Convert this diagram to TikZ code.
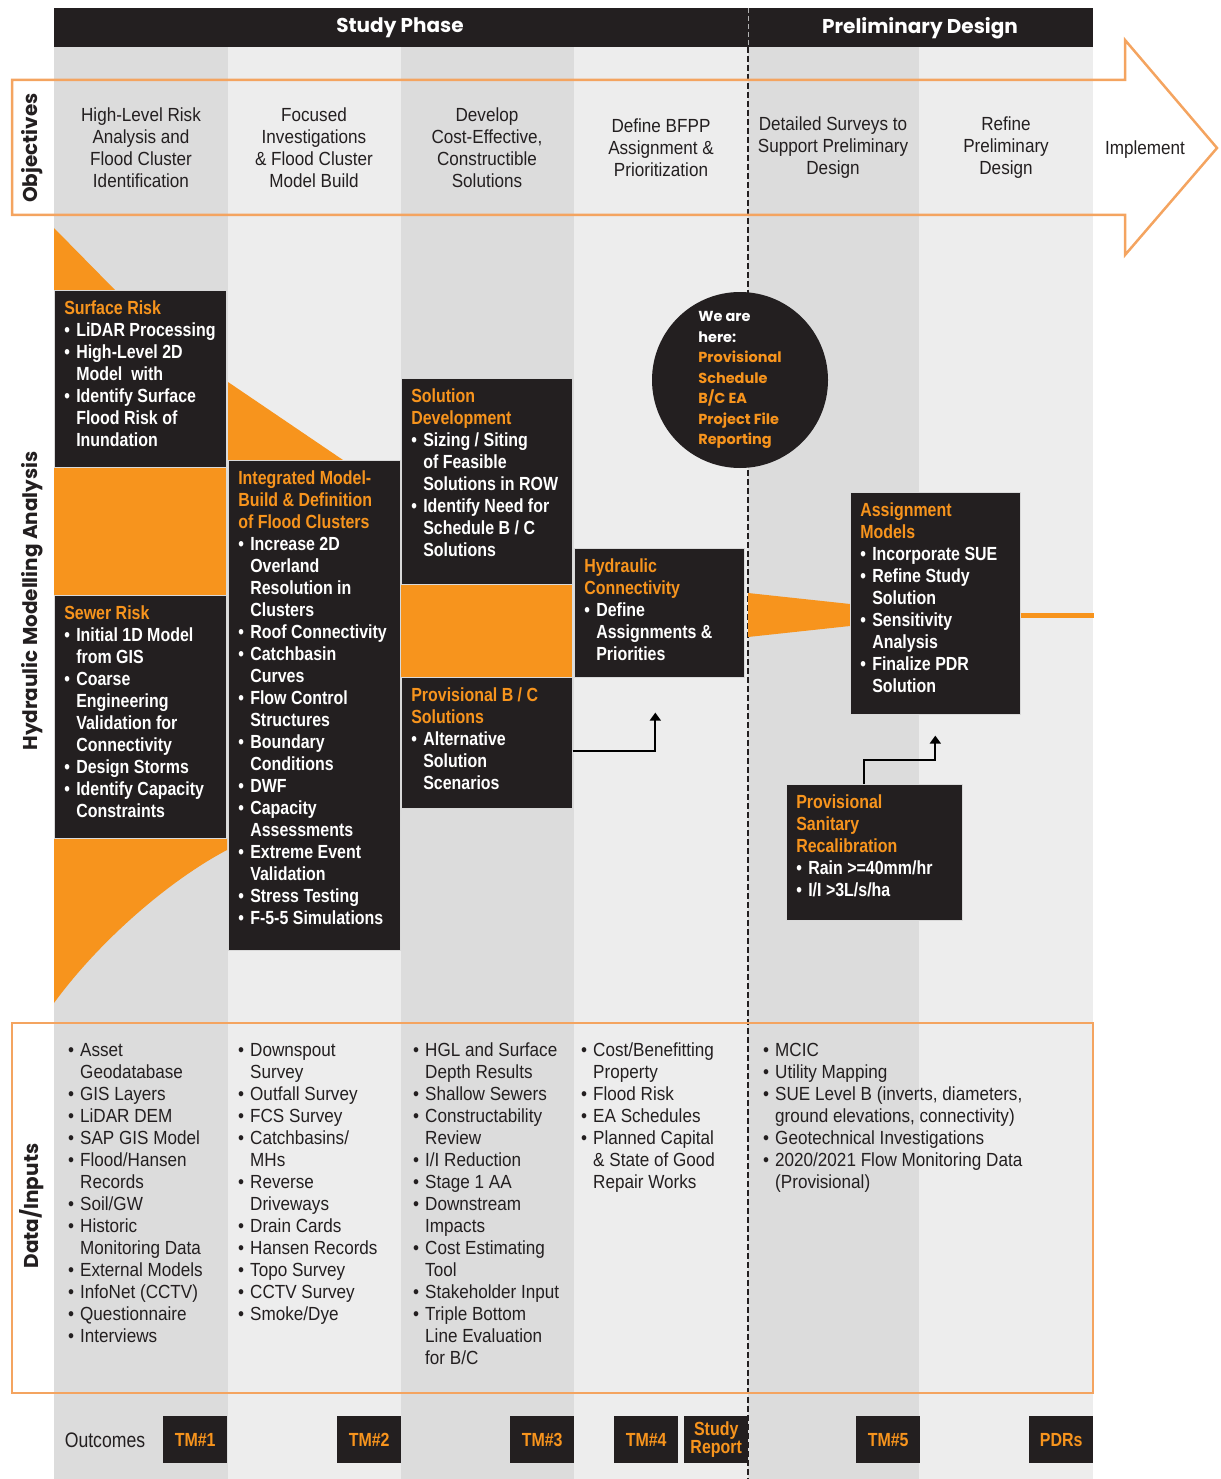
\documentclass[tikz,border=0pt]{standalone}
\usepackage{fontspec}
\setmainfont{Liberation Sans}[FakeStretch=0.9]
\newfontfamily\narrowfont{Liberation Sans}[FakeStretch=0.84]
\newfontfamily\roundfont{Poppins}
\usetikzlibrary{positioning,arrows.meta}

\definecolor{phasedark}{HTML}{231F20}
\definecolor{floodorange}{HTML}{F7941D}
\definecolor{lineorange}{HTML}{F4A460}
\definecolor{banddark}{HTML}{DCDCDC}
\definecolor{bandlight}{HTML}{EDEDED}

\newcommand{\bpt}{\makebox[12pt][l]{\textbullet}}
\newcommand{\bgap}{\hspace*{12pt}}
\newcommand{\hd}[1]{{\color{floodorange}#1}}

\tikzset{
  phase/.style={text=white, font=\roundfont\bfseries\fontsize{20}{22}\selectfont},
  sidelabel/.style={rotate=90, text=phasedark, font=\roundfont\bfseries\fontsize{20}{22}\selectfont},
  objtext/.style={align=center, text=phasedark, font=\fontsize{19}{22}\selectfont},
  datatext/.style={anchor=north west, inner sep=0pt, align=left, text=phasedark, font=\fontsize{19}{22}\selectfont},
  stage/.style={anchor=north west, fill=phasedark, draw=white!85!black, line width=0.6pt, text=white, inner sep=10pt, font=\narrowfont\bfseries\fontsize{19}{22}\selectfont},
  outcome/.style={anchor=north west, fill=phasedark, text=floodorange, minimum width=64pt, minimum height=47pt, inner sep=0pt, align=center, font=\narrowfont\bfseries\fontsize{19}{18}\selectfont},
  feed/.style={draw=black, line width=1.8pt, -{Triangle[width=11pt,length=8pt]}},
}

\begin{document}
\begin{tikzpicture}[x=1pt, y=-1pt]
\useasboundingbox (0,0) rectangle (1220,1479);

\foreach \xa/\xb/\tone in {54/228/banddark, 228/401/bandlight, 401/574/banddark, 574/748/bandlight, 748/919/banddark, 919/1093/bandlight}
  \fill[\tone] (\xa,47) rectangle (\xb,1479);

\fill[phasedark] (54,8) rectangle (1093,47);
\node[phase] (study) at (400,28) {Study Phase};
\node[phase] (prelim) at (920,28) {Preliminary Design};
\draw[white!70!black, dash pattern=on 5pt off 3pt, line width=1pt] (748,8) -- (748,47);
\draw[phasedark, dash pattern=on 6pt off 3pt, line width=1.2pt] (748,47) -- (748,1479);

\draw[lineorange, line width=2.5pt] (12,80) -- (1125,80) -- (1125,40) -- (1217,148) -- (1125,255) -- (1125,215) -- (12,215) -- cycle;

\node[sidelabel] (objlbl) at (32,148) {Objectives};
\node[sidelabel] (hydlbl) at (32,601) {Hydraulic Modelling Analysis};
\node[sidelabel] (datalbl) at (32,1206) {Data/Inputs};

\node[objtext] (obj1) at (141,148) {High-Level Risk\\Analysis and\\Flood Cluster\\Identification};
\node[objtext] (obj2) at (314,148) {Focused\\Investigations\\\& Flood Cluster\\Model Build};
\node[objtext] (obj3) at (487,148) {Develop\\Cost-Effective,\\Constructible\\Solutions};
\node[objtext] (obj4) at (661,148) {Define BFPP\\Assignment \&\\Prioritization};
\node[objtext] (obj5) at (833,148) {Detailed Surveys to\\Support Preliminary\\Design};
\node[objtext] (obj6) at (1006,148) {Refine\\Preliminary\\Design};
\node[objtext] (impl) at (1145,150) {Implement};

\fill[floodorange] (54,228) -- (115,290) -- (54,290) -- cycle;
\fill[floodorange] (54,467) rectangle (226,595);
\fill[floodorange] (54,838) -- (227,838) -- (227,850) .. controls (170,880) and (100,940) .. (54,1003) -- cycle;
\fill[floodorange] (228,382) -- (343,460) -- (228,460) -- cycle;
\fill[floodorange] (401,584) rectangle (572,677);
\fill[floodorange] (748,593) -- (850,604) -- (850,626) -- (748,637) -- cycle;

\node[stage] (surf) at (54,290) {\parbox[t][157pt][t]{152pt}{\raggedright
  \hd{Surface Risk}\\
  \bpt LiDAR Processing\\
  \bpt High-Level 2D\\\bgap Model~~with\\
  \bpt Identify Surface\\\bgap Flood Risk of\\\bgap Inundation}};
\node[stage] (sewer) at (54,595) {\parbox[t][223pt][t]{152pt}{\raggedright
  \hd{Sewer Risk}\\
  \bpt Initial 1D Model\\\bgap from GIS\\
  \bpt Coarse\\\bgap Engineering\\\bgap Validation for\\\bgap Connectivity\\
  \bpt Design Storms\\
  \bpt Identify Capacity\\\bgap Constraints}};
\node[stage] (integ) at (228,460) {\parbox[t][470pt][t]{152pt}{\raggedright
  \hd{Integrated Model-\\Build \& Definition\\of Flood Clusters}\\
  \bpt Increase 2D\\\bgap Overland\\\bgap Resolution in\\\bgap Clusters\\
  \bpt Roof Connectivity\\
  \bpt Catchbasin\\\bgap Curves\\
  \bpt Flow Control\\\bgap Structures\\
  \bpt Boundary\\\bgap Conditions\\
  \bpt DWF\\
  \bpt Capacity\\\bgap Assessments\\
  \bpt Extreme Event\\\bgap Validation\\
  \bpt Stress Testing\\
  \bpt F-5-5 Simulations}};
\node[stage] (soldev) at (401,378) {\parbox[t][186pt][t]{151pt}{\raggedright
  \hd{Solution\\Development}\\
  \bpt Sizing / Siting\\\bgap of Feasible\\\bgap Solutions in ROW\\
  \bpt Identify Need for\\\bgap Schedule B / C\\\bgap Solutions}};
\node[stage] (provbc) at (401,677) {\parbox[t][111pt][t]{151pt}{\raggedright
  \hd{Provisional B / C\\Solutions}\\
  \bpt Alternative\\\bgap Solution\\\bgap Scenarios}};
\node[stage] (hydconn) at (574,548) {\parbox[t][109pt][t]{150pt}{\raggedright
  \hd{Hydraulic\\Connectivity}\\
  \bpt Define\\\bgap Assignments \&\\\bgap Priorities}};
\node[stage] (assign) at (850,492) {\parbox[t][202pt][t]{150pt}{\raggedright
  \hd{Assignment\\Models}\\
  \bpt Incorporate SUE\\
  \bpt Refine Study\\\bgap Solution\\
  \bpt Sensitivity\\\bgap Analysis\\
  \bpt Finalize PDR\\\bgap Solution}};
\node[stage] (provsan) at (786,784) {\parbox[t][116pt][t]{156pt}{\raggedright
  \hd{Provisional\\Sanitary\\Recalibration}\\
  \bpt Rain >=40mm/hr\\
  \bpt I/I >3L/s/ha}};

\node[circle, fill=phasedark, minimum size=176pt, inner sep=0pt, align=left,
  font=\roundfont\bfseries\fontsize{14.5}{20.5}\selectfont, text=white] (here) at (740,380)
  {We are\\here:\\\hd{Provisional}\\\hd{Schedule}\\\hd{B/C EA}\\\hd{Project File}\\\hd{Reporting}};

\draw[feed] ([yshift=-8pt]provbc.east) -| ([xshift=-4pt,yshift=-35pt]hydconn.south);
\draw[feed] ([xshift=-10pt]provsan.north) -- ++(0,-24) -| ([yshift=-21pt]assign.south);
\draw[floodorange, line width=5pt] ([yshift=-12pt]assign.east) -- ++(73,0);

\draw[lineorange, line width=2pt] (12,1023) rectangle (1093,1393);

\node[datatext] (data1) at (68,1043) {\bpt Asset\\\bgap Geodatabase\\\bpt GIS Layers\\\bpt LiDAR DEM\\\bpt SAP GIS Model\\\bpt Flood/Hansen\\\bgap Records\\\bpt Soil/GW\\\bpt Historic\\\bgap Monitoring Data\\\bpt External Models\\\bpt InfoNet (CCTV)\\\bpt Questionnaire\\\bpt Interviews};
\node[datatext] (data2) at (238,1043) {\bpt Downspout\\\bgap Survey\\\bpt Outfall Survey\\\bpt FCS Survey\\\bpt Catchbasins/\\\bgap MHs\\\bpt Reverse\\\bgap Driveways\\\bpt Drain Cards\\\bpt Hansen Records\\\bpt Topo Survey\\\bpt CCTV Survey\\\bpt Smoke/Dye};
\node[datatext] (data3) at (413,1043) {\bpt HGL and Surface\\\bgap Depth Results\\\bpt Shallow Sewers\\\bpt Constructability\\\bgap Review\\\bpt I/I Reduction\\\bpt Stage 1 AA\\\bpt Downstream\\\bgap Impacts\\\bpt Cost Estimating\\\bgap Tool\\\bpt Stakeholder Input\\\bpt Triple Bottom\\\bgap Line Evaluation\\\bgap for B/C};
\node[datatext] (data4) at (581,1043) {\bpt Cost/Benefitting\\\bgap Property\\\bpt Flood Risk\\\bpt EA Schedules\\\bpt Planned Capital\\\bgap \& State of Good\\\bgap Repair Works};
\node[datatext] (data5) at (763,1043) {\bpt MCIC\\\bpt Utility Mapping\\\bpt SUE Level B (inverts, diameters,\\\bgap ground elevations, connectivity)\\\bpt Geotechnical Investigations\\\bpt 2020/2021 Flow Monitoring Data\\\bgap (Provisional)};

\node[text=phasedark, font=\narrowfont\fontsize{21}{22}\selectfont] (outc) at (105,1440) {Outcomes};
\node[outcome] (tm1) at (163,1416) {TM\#1};
\node[outcome] (tm2) at (337,1416) {TM\#2};
\node[outcome] (tm3) at (510,1416) {TM\#3};
\node[outcome] (tm4) at (614,1416) {TM\#4};
\node[outcome] (report) at (684,1416) {Study\\Report};
\node[outcome] (tm5) at (856,1416) {TM\#5};
\node[outcome] (pdr) at (1029,1416) {PDRs};
\end{tikzpicture}
\end{document}
